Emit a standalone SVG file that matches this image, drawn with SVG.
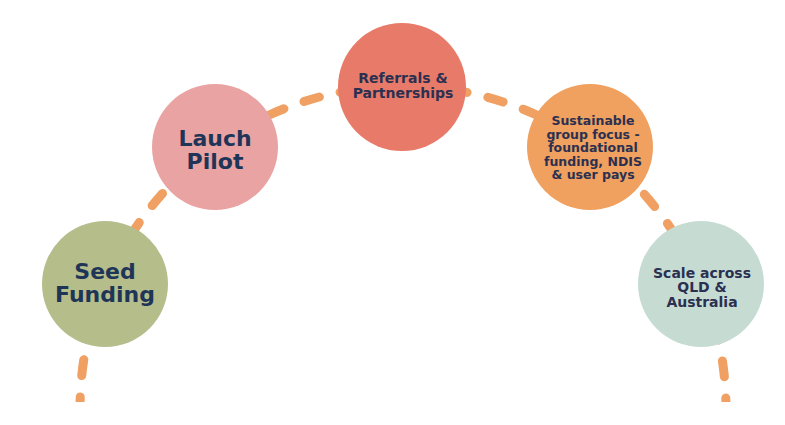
<svg xmlns="http://www.w3.org/2000/svg" width="785" height="425" viewBox="0 0 785 425">
  <style>
    .lbl { font-family: "DejaVu Sans", "Liberation Sans", sans-serif; font-weight: bold; text-anchor: middle; fill: #1f3558; }
    .big { font-size: 22px; }
    .mid { font-size: 14px; fill: #2b3050; }
    .sm { font-size: 12.5px; fill: #2b3050; }
    .dash { fill: none; stroke: #efa062; stroke-width: 9; stroke-linecap: round; stroke-dasharray: 16 21.3; stroke-dashoffset: 3.8; }
  </style>
  <defs>
    <clipPath id="cut"><rect x="0" y="0" width="785" height="402"/></clipPath>
  </defs>
  <rect width="785" height="425" fill="#ffffff"/>
  <g id="connectors" clip-path="url(#cut)">
    <path class="dash" d="M 80 409 A 323 323 0 0 1 726 409"/>
  </g>
  <g id="seed-funding">
    <circle cx="105" cy="284" r="63" fill="#b5bd8b"/>
    <text class="lbl big" x="105" y="279">Seed</text>
    <text class="lbl big" x="105" y="302">Funding</text>
  </g>
  <g id="launch-pilot">
    <circle cx="215" cy="147" r="63" fill="#e9a3a3"/>
    <text class="lbl big" x="215" y="146">Lauch</text>
    <text class="lbl big" x="215" y="169">Pilot</text>
  </g>
  <g id="referrals">
    <circle cx="402" cy="87" r="64" fill="#e87a69"/>
    <text class="lbl mid" x="403" y="83">Referrals &amp;</text>
    <text class="lbl mid" x="403" y="97.5">Partnerships</text>
  </g>
  <g id="sustainable">
    <circle cx="590" cy="147" r="63" fill="#f0a05f"/>
    <text class="lbl sm" x="593" y="125">Sustainable</text>
    <text class="lbl sm" x="593" y="138.5">group focus -</text>
    <text class="lbl sm" x="593" y="152">foundational</text>
    <text class="lbl sm" x="593" y="165.5">funding, NDIS</text>
    <text class="lbl sm" x="593" y="179">&amp; user pays</text>
  </g>
  <g id="scale">
    <circle cx="701" cy="284" r="63" fill="#c6dcd3"/>
    <text class="lbl mid" x="702" y="277.5">Scale across</text>
    <text class="lbl mid" x="702" y="292">QLD &amp;</text>
    <text class="lbl mid" x="702" y="306.5">Australia</text>
  </g>
</svg>
